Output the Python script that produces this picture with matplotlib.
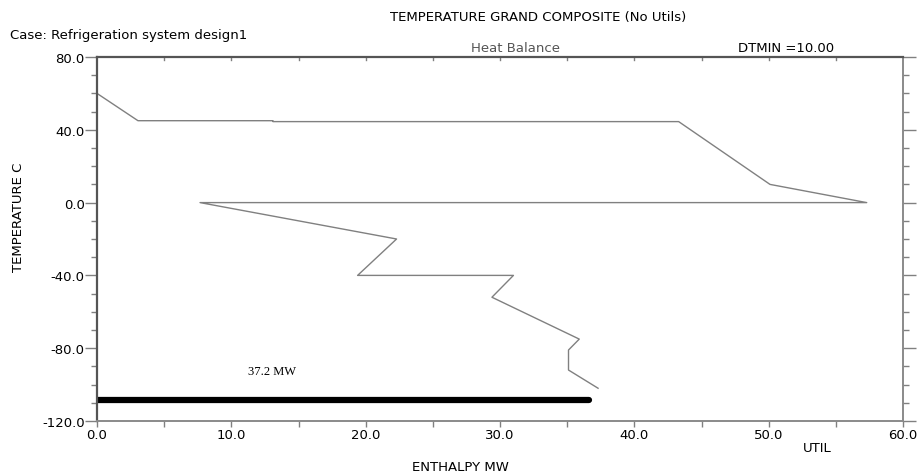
import numpy as np
import matplotlib
matplotlib.use("Agg")
import matplotlib.pyplot as plt
from matplotlib.ticker import MultipleLocator

# grand composite curve (enthalpy MW, temperature C)
enthalpy = [0.0, 3.05, 13.1, 13.1, 43.3, 50.1, 57.3, 7.67, 22.3, 19.4, 31.0, 29.4, 35.9, 35.1, 35.1, 37.3]
temperature = [60.0, 45.0, 45.0, 44.5, 44.5, 10.0, 0.0, 0.0, -20.0, -40.0, -40.0, -52.0, -75.0, -81.0, -92.0, -102.0]

# utility bar
bar_enthalpy = [0.0, 36.6]
bar_temp = -108.5
bar_label = "37.2 MW"

x_ticks = [0.0, 10.0, 20.0, 30.0, 40.0, 50.0, 60.0]
y_ticks = [-120.0, -80.0, -40.0, 0.0, 40.0, 80.0]

plt.rcParams['font.family'] = ['DejaVu Sans']
FS = 9.5

fig = plt.figure(figsize=(9.21, 4.77), dpi=100)
ax = fig.add_axes([97 / 921, 1 - 422 / 477, (903 - 97) / 921, (422 - 58) / 477])

# curve and utility bar
ax.plot(enthalpy, temperature, color='#808080', linewidth=1.0)
ax.plot(bar_enthalpy, [bar_temp, bar_temp], color='black', linewidth=4.5, solid_capstyle='round')
ax.text(13.0, bar_temp + 16, bar_label, ha='center', va='center',
        fontsize=9, family=['Liberation Serif', 'DejaVu Serif'])

ax.set_xlim(0, 60)
ax.set_ylim(-120, 80)
ax.set_xticks(x_ticks)
ax.set_yticks(y_ticks)
ax.set_xticklabels([f"{v:.1f}" for v in x_ticks])
ax.set_yticklabels([f"{v:.1f}" for v in y_ticks])
ax.xaxis.set_minor_locator(MultipleLocator(5))
ax.yaxis.set_minor_locator(MultipleLocator(10))

ax.tick_params(axis='both', which='major', labelsize=FS, color='#808080', length=9, width=1, pad=0)
ax.tick_params(axis='both', which='minor', color='#808080', length=4, width=1)
ax.tick_params(axis='y', which='both', left=True, right=True, direction='out')
ax.tick_params(axis='x', which='both', bottom=True, top=False, direction='out', length=4, pad=1)

for side in ['left', 'top']:
    ax.spines[side].set_color('#555555')
    ax.spines[side].set_linewidth(1.6)
for side in ['right', 'bottom']:
    ax.spines[side].set_color('#8a8a8a')
    ax.spines[side].set_linewidth(1.4)

# top inner ticks
for xv in np.arange(5, 60, 5):
    ax.plot([xv, xv], [80, 78.5], color='#808080', linewidth=1, clip_on=False)

fig.text(460 / 921, 1 - 468 / 477, "ENTHALPY MW", ha='center', va='center', fontsize=FS)
fig.text(19 / 921, 1 - 217 / 477, "TEMPERATURE C", ha='center', va='center', fontsize=FS, rotation=90)

fig.text(538 / 921, 1 - 17 / 477, "TEMPERATURE GRAND COMPOSITE (No Utils)", ha='center', va='center', fontsize=FS)
fig.text(10 / 921, 1 - 36 / 477, "Case: Refrigeration system design1", ha='left', va='center', fontsize=FS)
fig.text(515 / 921, 1 - 48 / 477, "Heat Balance", ha='center', va='center', fontsize=FS, color='#555555')
fig.text(786 / 921, 1 - 48 / 477, "DTMIN =10.00", ha='center', va='center', fontsize=FS)
fig.text(817 / 921, 1 - 448 / 477, "UTIL", ha='center', va='center', fontsize=FS)

fig.savefig("out.png", dpi=100)
